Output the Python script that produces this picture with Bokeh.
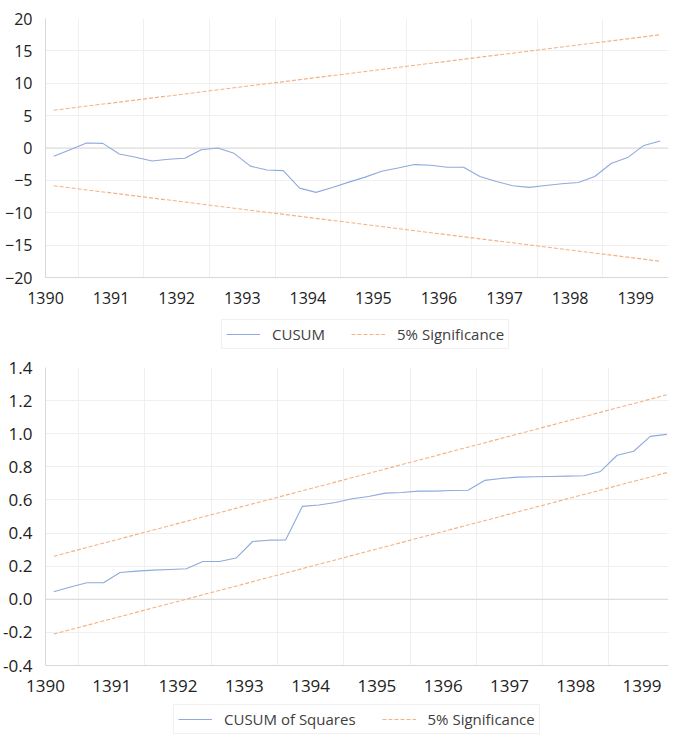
from bokeh.plotting import figure
from bokeh.layouts import column
from bokeh.models import FixedTicker, Legend, LegendItem, Span, Range1d, NumeralTickFormatter
from bokeh.embed import file_html
from bokeh.resources import INLINE

# ---------------- data ----------------
years = list(range(1390, 1400))
quarter_years = [1390 + q // 4 for q in range(38)]
quarter_nums = [q % 4 + 1 for q in range(38)]

cusum = [-1.28, -0.26, 0.77, 0.72, -0.92, -1.43, -2.0, -1.74, -1.58, -0.26,
         0.0, -0.82, -2.8, -3.4, -3.5, -6.2, -6.85, -6.1, -5.27, -4.5,
         -3.58, -3.1, -2.56, -2.66, -2.97, -2.97, -4.4, -5.16, -5.83, -6.08,
         -5.78, -5.52, -5.32, -4.4, -2.4, -1.48, 0.4, 1.07]
cusum_upper = [5.83, 17.49]
cusum_lower = [-5.83, -17.49]

cusum_sq = [0.046, 0.074, 0.10, 0.10, 0.162, 0.17, 0.176, 0.18, 0.184, 0.228,
            0.228, 0.249, 0.349, 0.357, 0.359, 0.561, 0.569, 0.585, 0.607, 0.621,
            0.641, 0.645, 0.653, 0.653, 0.657, 0.659, 0.718, 0.73, 0.738, 0.74,
            0.742, 0.744, 0.746, 0.772, 0.87, 0.894, 0.984, 0.996]
sq_upper = [0.26, 1.235]
sq_lower = [-0.21, 0.765]

cusum_ticks = [-20, -15, -10, -5, 0, 5, 10, 15, 20]
sq_ticks = [-0.4, -0.2, 0.0, 0.2, 0.4, 0.6, 0.8, 1.0, 1.2, 1.4]

# x position of each quarter (centre of the quarter)
xq = [y + (q - 0.5) / 4 for y, q in zip(quarter_years, quarter_nums)]
x_ends = [xq[0], xq[-1]]

BLUE = "#8FAADC"
ORANGE = "#F4B183"
GRID = "#EFEFEF"
AXIS = "#D9D9D9"
TXT = "#404040"
FONT = "Open Sans"


def style(p, yticks, tick_size):
    p.xaxis.ticker = FixedTicker(ticks=years)
    p.xgrid.ticker = FixedTicker(ticks=[y + 0.5 for y in years])
    p.yaxis.ticker = FixedTicker(ticks=yticks)
    p.xgrid.grid_line_color = GRID
    p.ygrid.grid_line_color = GRID
    for ax in (p.xaxis, p.yaxis):
        ax.major_tick_line_color = None
        ax.minor_tick_line_color = None
        ax.axis_line_color = AXIS
        ax.major_label_text_font = FONT
        ax.major_label_text_font_size = tick_size
        ax.major_label_text_color = "#222222"
    p.yaxis.major_label_standoff = 7
    p.xaxis.major_label_standoff = 8
    p.outline_line_color = None
    p.add_layout(Span(location=0, dimension="width", line_color=AXIS,
                      line_width=1, level="underlay"))


def legend_fig(label1, ys, height, loc):
    """A strip holding the legend below a chart; its lines lie outside the strip's view."""
    f = figure(width=672, height=height, output_backend="svg", toolbar_location=None,
               x_range=Range1d(0, 1), y_range=Range1d(100, 101),
               x_axis_type=None, y_axis_type=None, min_border=0)
    f.grid.visible = False
    f.outline_line_color = None
    a = f.line(xq, ys, line_color=BLUE, line_width=1.1)
    b = f.line(xq, ys, line_color=ORANGE, line_width=1.1, line_dash="4 2")
    leg = Legend(items=[LegendItem(label=label1, renderers=[a]),
                        LegendItem(label="5% Significance", renderers=[b])],
                 orientation="horizontal", location=loc,
                 label_text_font=FONT, label_text_font_size="15px",
                 label_text_color=TXT, glyph_width=34, glyph_height=14,
                 label_height=14, label_standoff=12, spacing=26, padding=4,
                 margin=0, border_line_color="#E3E3E3",
                 border_line_width=1)
    f.add_layout(leg)
    return f


# ---------------- top: CUSUM ----------------
p1 = figure(width=672, height=307, output_backend="svg", toolbar_location=None,
            x_range=Range1d(1390, 1399.5), y_range=Range1d(-20, 20),
            min_border_left=35, min_border_right=4, min_border_top=18,
            min_border_bottom=30)
style(p1, cusum_ticks, "16px")
p1.line(xq, cusum, line_color=BLUE, line_width=1.1)
p1.line(x_ends, cusum_upper, line_color=ORANGE, line_width=1.1, line_dash="4 2")
p1.line(x_ends, cusum_lower, line_color=ORANGE, line_width=1.1, line_dash="4 2")
leg1 = legend_fig("CUSUM", cusum, 50, (176, 8))

# ---------------- bottom: CUSUM of Squares ----------------
p2 = figure(width=672, height=340, output_backend="svg", toolbar_location=None,
            x_range=Range1d(1390, 1399.4), y_range=Range1d(-0.4, 1.4),
            min_border_left=35, min_border_right=0, min_border_top=10,
            min_border_bottom=32)
style(p2, sq_ticks, "17px")
p2.yaxis.formatter = NumeralTickFormatter(format="0.0")
p2.line(xq, cusum_sq, line_color=BLUE, line_width=1.1)
p2.line(x_ends, sq_upper, line_color=ORANGE, line_width=1.1, line_dash="4 2")
p2.line(x_ends, sq_lower, line_color=ORANGE, line_width=1.1, line_dash="4 2")
leg2 = legend_fig("CUSUM of Squares", cusum_sq, 37, (128, 0))

layout = column(p1, leg1, p2, leg2, spacing=0)
open("out.html", "w").write(file_html(layout, INLINE))
